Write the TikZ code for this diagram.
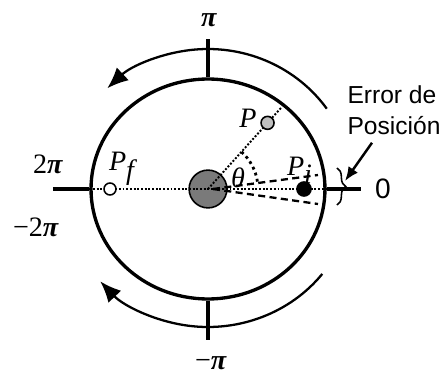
\documentclass[tikz,border=0pt]{standalone}
\usepackage{fontspec}
\setmainfont{Liberation Serif}
\newfontfamily\arialfont{Liberation Sans}
\usepackage{tikz}
\usetikzlibrary{arrows.meta,positioning,calc,shapes.geometric,decorations.pathreplacing}
\tikzset{
	ring/.style={ellipse, draw, line width=1.9pt, inner sep=0pt},
	axisline/.style={line width=2.2pt},
	turnarrow/.style={-{Latex[length=12pt,width=10pt]}, line width=1.3pt},
	dotline/.style={densely dotted, line width=1.1pt},
	dashline/.style={dashed, dash pattern=on 4pt off 2.5pt, line width=1.3pt},
	pointnode/.style={circle, draw, line width=0.9pt, inner sep=0pt},
	serlabel/.style={font=\fontsize{16}{18}\selectfont, inner sep=0pt},
	sanslabel/.style={font=\arialfont\fontsize{14}{17.5}\selectfont, align=left, inner sep=0pt}
}
\newcommand{\bpi}{\textbf{\textit{π}}}

\begin{document}
\begin{tikzpicture}[x=0.02cm, y=0.02cm,
			errarrow/.style={-{Latex[length=8pt,width=6.5pt]}, line width=1.4pt},
			]
			\useasboundingbox (-208,-187) rectangle (233,189);
			
			%% -- Ring, axis and ticks
			\node[ring, minimum width=4.68cm, minimum height=4.4cm] (ring) at (0,0) {};
			
			\coordinate (axW) at (-155,0);
			\coordinate (axE) at (153,0);
			\draw[axisline] (axW) -- (ring.west);
			\draw[axisline] (ring.east) -- (axE);
			\draw[axisline] (ring.north) -- ++(0,38);
			\draw[axisline] (ring.south) -- ++(0,-39);
			
			%% -- Turn direction arcs
			\draw[turnarrow] (35:145 and 140) arc [start angle=35, end angle=134, x radius=145, y radius=140];
			\draw[turnarrow] (-38:145 and 138) arc [start angle=-38, end angle=-138, x radius=145, y radius=138];
			
			%% -- Hub
			\node[pointnode, fill=black!52, minimum size=21.5pt] (hub) at (0,0) {};
			
			%% -- Radius lines
			\coordinate (rayend) at (48:110);
			\coordinate (errtop) at (110,14);
			\coordinate (errbot) at (110,-15);
			\draw[dotline] (ring.west) -- (ring.east);
			\draw[dotline] (hub.center) -- (rayend);
			\draw[dashline] ($(hub.center)+(5,0)$) -- (errtop);
			\draw[dashline] ($(hub.center)+(5,0)$) -- (errbot);
			\draw[dotted, line width=1.6pt] (48:50) arc [start angle=48, end angle=8, radius=50];
			
			%% -- Positions
			\node[pointnode, fill=black!25, minimum size=7.4pt] (ptP) at (48:89) {};
			\node[pointnode, fill=black, minimum size=8pt] (ptPi) at (96,0) {};
			\node[pointnode, fill=white, minimum size=6.8pt] (ptPf) at (-98,0) {};
			
			\node[serlabel] (lblP) at (40,71) {\textit{P}};
			\node[serlabel] (lblPi) at (92,19) {\textit{P}$_{\textit{i}}$};
			\node[serlabel] (lblPf) at (-86,20) {\textit{P}$_{\textit{f}}$};
			\node[serlabel] (lblTheta) at (30,11) {\textit{θ}};
			
			%% -- Angle values
			\node[serlabel] (lblHalf) at (1,169) {\bpi};
			\node[serlabel] (lblFull) at (-160,25) {2\bpi};
			\node[serlabel] (lblNegFull) at (-172,-38) {−2\bpi};
			\node[serlabel] (lblNegHalf) at (3,-174) {−\bpi};
			\node[sanslabel, font=\arialfont\fontsize{16}{18}\selectfont] (lblZero) at (175,0) {0};
			
			%% -- Error brace
			\coordinate (bracetop) at (129,21);
			\coordinate (bracebot) at (129,-16);
			\coordinate (errtip) at (137,8);
			\draw[decorate, decoration={brace, amplitude=5pt}, line width=0.9pt] (bracetop) -- (bracebot);
			
			\node[sanslabel] (err) at (186,79) {Error de\\Posición};
			\draw[errarrow] ([shift={(-22,-8)}]err.south) -- (errtip);
			
		\end{tikzpicture}
\end{document}
